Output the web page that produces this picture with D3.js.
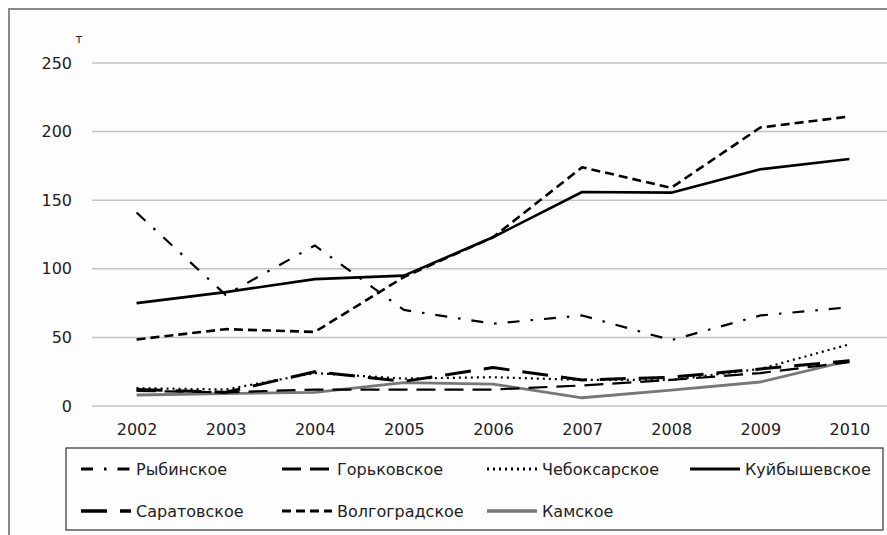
<!DOCTYPE html>
<html>
<head>
<meta charset="utf-8">
<script src="https://cdn.jsdelivr.net/npm/d3@7"></script>
<style>
  html, body { margin: 0; padding: 0; background: #ffffff; }
  svg { display: block; font-family: "DejaVu Sans", sans-serif; }
</style>
</head>
<body>
<svg id="chart" width="887" height="535"></svg>
<script>
// ---- data ----
const years = ["2002","2003","2004","2005","2006","2007","2008","2009","2010"];
const seriesNames = ["Рыбинское","Горьковское","Чебоксарское","Куйбышевское","Саратовское","Волгоградское","Камское"];
const rybinskoe      = [141, 81, 117, 70, 60, 66, 48, 66, 72];
const gorkovskoe     = [11, 10, 12, 12, 12, 15, 19, 24, 32];
const cheboksarskoe  = [13, 12, 24, 20, 21, 19, 19, 27, 45];
const kuibyshevskoe  = [75, 83, 92.5, 95, 123, 156, 155.5, 172.5, 180];
const saratovskoe    = [12, 10, 25, 18, 28, 19, 21, 27, 33];
const volgogradskoe  = [48.5, 56, 54, 94, 123, 174, 159, 203, 211];
const kamskoe        = [8, 9, 10, 17, 16, 6, 11.5, 17.5, 33];
const yTicks = [0, 50, 100, 150, 200, 250];
const unitLabel = "т";

const seriesValues = [rybinskoe, gorkovskoe, cheboksarskoe, kuibyshevskoe, saratovskoe, volgogradskoe, kamskoe];

// ---- styles ----
const styles = [
  {stroke: "#000", width: 2.2, dash: "12,11,2.5,11"},
  {stroke: "#000", width: 2.2, dash: "19,9"},
  {stroke: "#000", width: 2.2, dash: "2,4"},
  {stroke: "#000", width: 2.6, dash: null},
  {stroke: "#000", width: 3.0, dash: "26,13"},
  {stroke: "#000", width: 2.6, dash: "9,5"},
  {stroke: "#777", width: 2.8, dash: null}
];

const svg = d3.select("#chart");

// outer frame
svg.append("rect").attr("x", 9).attr("y", 9).attr("width", 900).attr("height", 560)
  .attr("fill", "#fdfdfd").attr("stroke", "#8a8a8a").attr("stroke-width", 2);

const x = d3.scalePoint().domain(years).range([92, 894]).padding(0.5);
const y = d3.scaleLinear().domain([0, 250]).range([406, 63]);

// gridlines
svg.append("g").selectAll("line").data(yTicks).join("line")
  .attr("x1", 92).attr("x2", 900)
  .attr("y1", d => y(d)).attr("y2", d => y(d))
  .attr("stroke", "#c4c4c4").attr("stroke-width", 1.5);

// y axis labels
const yAxis = d3.axisLeft(y).tickValues(yTicks).tickSize(0).tickPadding(0);
const gy = svg.append("g").attr("transform", "translate(72,0)").call(yAxis);
gy.select(".domain").remove();
gy.selectAll("text").attr("font-size", 16).attr("fill", "#222").attr("font-family", "DejaVu Sans, sans-serif");

// unit
svg.append("text").attr("x", 79).attr("y", 43).attr("text-anchor", "middle")
  .attr("font-size", 12).attr("fill", "#222").text(unitLabel);

// x axis labels
const xAxis = d3.axisBottom(x).tickSize(0).tickPadding(0);
const gx = svg.append("g").attr("transform", "translate(0,424)").call(xAxis);
gx.select(".domain").remove();
gx.selectAll("text").attr("font-size", 16).attr("fill", "#222").attr("font-family", "DejaVu Sans, sans-serif");

// lines
const line = d3.line().x((d, i) => x(years[i])).y(d => y(d));
const drawOrder = [6, 1, 4, 2, 0, 5, 3];
drawOrder.forEach(k => {
  const s = styles[k];
  svg.append("path").datum(seriesValues[k])
    .attr("d", line)
    .attr("fill", "none")
    .attr("stroke", s.stroke)
    .attr("stroke-width", s.width)
    .attr("stroke-dasharray", s.dash)
    .attr("stroke-linejoin", "round");
});

// legend
svg.append("rect").attr("x", 66).attr("y", 448).attr("width", 817).attr("height", 82)
  .attr("fill", "#fdfdfd").attr("stroke", "#333").attr("stroke-width", 1.2);

const colX = [81, 282, 487, 690];
const rowY = [469, 511];
seriesNames.forEach((name, i) => {
  const cx = colX[i % 4], cy = rowY[Math.floor(i / 4)];
  const s = styles[i];
  svg.append("line").attr("x1", cx).attr("x2", cx + 50).attr("y1", cy).attr("y2", cy)
    .attr("stroke", s.stroke).attr("stroke-width", s.width + 0.6)
    .attr("stroke-dasharray", s.dash);
  svg.append("text").attr("x", cx + 55).attr("y", cy).attr("dy", "0.36em")
    .attr("font-size", 16).attr("fill", "#222").text(name);
});
</script>
</body>
</html>
